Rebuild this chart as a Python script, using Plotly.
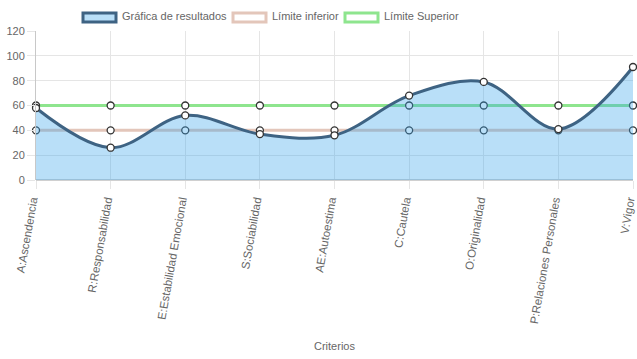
import plotly.graph_objects as go

categorias = ["A:Ascendencia", "R:Responsabilidad", "E:Estabilidad Emocional",
              "S:Sociabilidad", "AE:Autoestima", "C:Cautela", "O:Originalidad",
              "P:Relaciones Personales", "V:Vigor"]
resultados = [58, 26, 52, 37, 36, 68, 79, 41, 91]
limite_inferior = [40, 40, 40, 40, 40, 40, 40, 40, 40]
limite_superior = [60, 60, 60, 60, 60, 60, 60, 60, 60]
y_ticks = [0, 20, 40, 60, 80, 100, 120]

W, H = 637, 359
L, R, T, B = 36, 4, 31, 179
PW, PH = W - L - R, H - T - B

def px(x):
    return (x - L) / PW

def py(y):
    return (H - B - y) / PH

marker = dict(size=7, color="white", line=dict(color="#333333", width=1.3))

fig = go.Figure()
fig.add_trace(go.Scatter(x=categorias, y=limite_superior, mode="lines+markers",
                         name="Límite Superior", line=dict(color="#8ee58e", width=3),
                         marker=marker, cliponaxis=False))
fig.add_trace(go.Scatter(x=categorias, y=limite_inferior, mode="lines+markers",
                         name="Límite inferior", line=dict(color="#e3c6ba", width=3),
                         marker=marker, cliponaxis=False))
fig.add_trace(go.Scatter(x=categorias, y=resultados, mode="lines+markers",
                         name="Gráfica de resultados",
                         line=dict(color="#3e6383", width=3, shape="spline", smoothing=1.0),
                         fill="tozeroy", fillcolor="rgba(54,162,235,0.35)",
                         marker=marker, cliponaxis=False))

font = dict(family="Liberation Sans, Arial, sans-serif", size=11, color="#666666")
xfont = dict(family="Liberation Sans, Arial, sans-serif", size=11.5, color="#666666")

shapes = []
annotations = []
legend_items = [
    (82, "Gráfica de resultados", "rgba(54,162,235,0.35)", "#3e6383"),
    (232, "Límite inferior", "white", "#e3c6ba"),
    (344, "Límite Superior", "white", "#8ee58e"),
]
for x0, label, fc, lc in legend_items:
    shapes.append(dict(type="rect", xref="paper", yref="paper",
                       x0=px(x0 + 1), x1=px(x0 + 34), y0=py(22), y1=py(13),
                       fillcolor=fc, line=dict(color=lc, width=3), layer="above"))
    annotations.append(dict(xref="paper", yref="paper", x=px(x0 + 38), y=py(16),
                            text=label, showarrow=False, xanchor="left", yanchor="middle",
                            font=font))

annotations.append(dict(xref="paper", yref="paper", x=px(334), y=py(346),
                        text="Criterios", showarrow=False, xanchor="center",
                        yanchor="middle", font=font))

fig.update_layout(
    width=W, height=H, margin=dict(l=L, r=R, t=T, b=B, autoexpand=False),
    paper_bgcolor="white", plot_bgcolor="white", showlegend=False,
    font=font, shapes=shapes, annotations=annotations,
    xaxis=dict(type="category", range=[0, len(categorias) - 1], tickangle=-80,
               automargin=False, ticklabelshift=-4,
               showgrid=True, gridcolor="#e5e5e5", gridwidth=1,
               ticks="outside", ticklen=8, tickcolor="#e5e5e5",
               showline=False, zeroline=False, tickfont=xfont),
    yaxis=dict(range=[0, 120], tickvals=y_ticks, showgrid=True, gridcolor="#e5e5e5",
               automargin=False,
               ticks="outside", ticklen=8, tickcolor="#e5e5e5",
               zeroline=True, zerolinecolor="#d0d0d0", zerolinewidth=2,
               showline=True, linecolor="#c8c8c8", linewidth=1, tickfont=font),
)

fig.write_html("out.html", config={"displayModeBar": False},
               post_script="document.body.style.margin='0px';")
